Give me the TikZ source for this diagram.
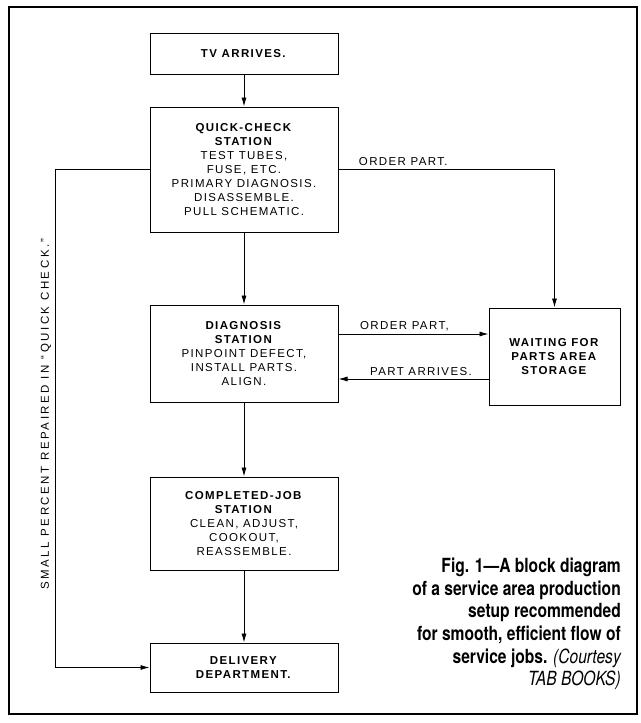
\documentclass[tikz,border=0pt]{standalone}
\usepackage{fontspec}
\setmainfont{Liberation Sans}
\newfontfamily\boxfont[LetterSpace=12]{Liberation Sans}
\newfontfamily\notefont[LetterSpace=22]{Liberation Sans}
\newfontfamily\capfont[FakeStretch=0.8]{TeX Gyre Heros}
\usetikzlibrary{arrows.meta,positioning}

\begin{document}
\begin{tikzpicture}[x=1pt,y=-1pt,
  stn/.style={draw,line width=1pt,minimum width=188pt,inner sep=2pt,align=center,font=\boxfont\fontsize{11.5}{14}\selectfont},
  lbl/.style={inner sep=3pt,font=\boxfont\fontsize{11.5}{14}\selectfont},
  flow/.style={-{Latex[length=9pt,width=5pt]},line width=0.8pt}]
  \useasboundingbox (0,0) rectangle (640,723);
  \draw[line width=1.6pt] (9,7) rectangle (637,714);
  % stations
  \node[stn,minimum height=41pt] (tv) at (244,53.5) {\textbf{TV ARRIVES.}};
  \node[stn,minimum height=125pt] (quick) at (244,169.5) {\textbf{QUICK-CHECK}\\\textbf{STATION}\\TEST TUBES,\\FUSE, ETC.\\PRIMARY DIAGNOSIS.\\DISASSEMBLE.\\PULL SCHEMATIC.};
  \node[stn,minimum height=97pt] (diag) at (244,353.5) {\textbf{DIAGNOSIS}\\\textbf{STATION}\\PINPOINT DEFECT,\\INSTALL PARTS.\\ALIGN.};
  \node[stn,minimum width=131pt,minimum height=97pt] (wait) at (554.5,356.5) {\textbf{WAITING FOR}\\\textbf{PARTS AREA}\\\textbf{STORAGE}};
  \node[stn,minimum height=93pt] (done) at (244,523.5) {\textbf{COMPLETED-JOB}\\\textbf{STATION}\\CLEAN, ADJUST,\\COOKOUT,\\REASSEMBLE.};
  \node[stn,minimum height=49pt] (deliv) at (244,667.5) {\textbf{DELIVERY}\\\textbf{DEPARTMENT.}};
  % flow
  \draw[flow] (tv) -- (quick);
  \draw[flow] (quick) -- (diag);
  \draw[flow] (diag) -- (done);
  \draw[flow] (done) -- (deliv);
  \draw[flow] (quick.east) -| node[lbl,pos=0.15,above] {ORDER PART.} (wait.north);
  \draw[flow] ([yshift=19.5pt]diag.east) -- node[lbl,pos=0.44,above] {ORDER PART,} ([yshift=19.5pt]diag.east -| wait.west);
  \draw[flow] ([yshift=-25.5pt]diag.east -| wait.west) -- node[lbl,pos=0.45,above] {PART ARRIVES.} ([yshift=-25.5pt]diag.east);
  \draw[flow] (quick.west) -- ++(-94,0) |- (deliv.west);
  \node[rotate=90,font=\notefont\fontsize{11.5}{12}\selectfont] (note) at (46,414) {SMALL PERCENT REPAIRED IN “QUICK CHECK.”};
  % caption
  \node[anchor=north east,inner sep=0pt,align=right,font=\capfont\bfseries\fontsize{19.5}{22.6}\selectfont] (cap) at (621,558)
    {Fig. 1—A block diagram\\of a service area production\\setup recommended\\for smooth, efficient flow of\\service jobs. {\mdseries\itshape (Courtesy}\\{\mdseries\itshape TAB BOOKS)}};
\end{tikzpicture}
\end{document}
